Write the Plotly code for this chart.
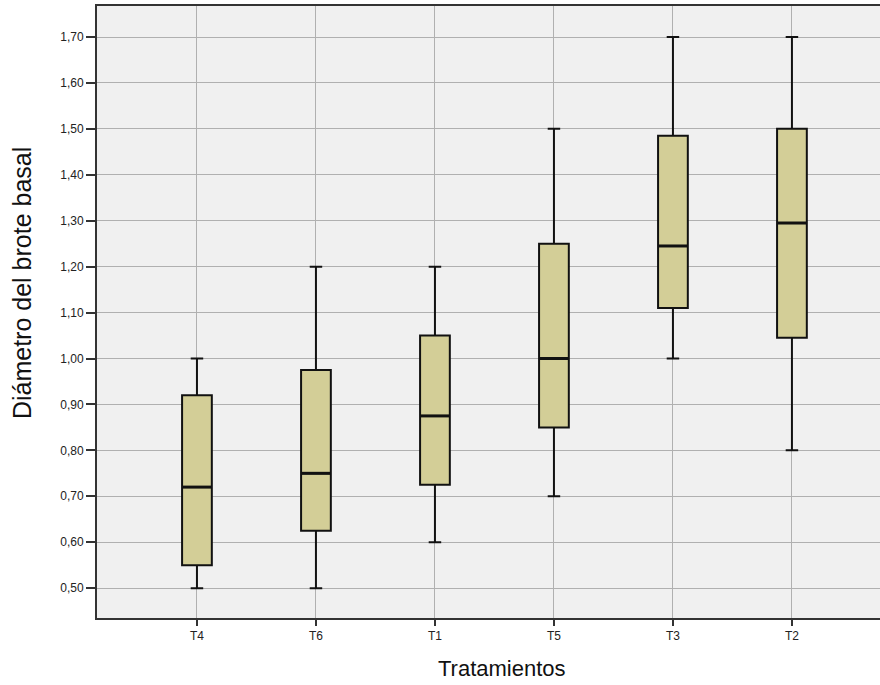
import plotly.graph_objects as go

categories = ["T4", "T6", "T1", "T5", "T3", "T2"]
mins = [0.50, 0.50, 0.60, 0.70, 1.00, 0.80]
q1s = [0.55, 0.625, 0.725, 0.85, 1.11, 1.045]
medians = [0.72, 0.75, 0.875, 1.00, 1.245, 1.295]
q3s = [0.92, 0.975, 1.05, 1.25, 1.485, 1.50]
maxs = [1.00, 1.20, 1.20, 1.50, 1.70, 1.70]

ytick_vals = [0.5, 0.6, 0.7, 0.8, 0.9, 1.0, 1.1, 1.2, 1.3, 1.4, 1.5, 1.6, 1.7]

FILL = "#D3CE97"
BW = 0.25
pos = list(range(len(categories)))

fig = go.Figure()
fig.add_trace(go.Box(
    x=pos, q1=q1s, median=medians, q3=q3s,
    lowerfence=mins, upperfence=maxs,
    width=BW, whiskerwidth=0.42,
    fillcolor=FILL, line=dict(color="#111111", width=2),
    boxpoints=False, showlegend=False, hoverinfo="skip",
))
for i, m in zip(pos, medians):
    fig.add_trace(go.Scatter(
        x=[i - BW / 2, i + BW / 2], y=[m, m], mode="lines",
        line=dict(color="#111111", width=3), showlegend=False, hoverinfo="skip",
    ))

fig.update_layout(
    width=880, height=685,
    margin=dict(l=97, r=0, t=6, b=67),
    paper_bgcolor="white", plot_bgcolor="#F0F0F0",
    separators=",.",
    font=dict(family="Liberation Sans, Arial, sans-serif", color="#222222"),
    annotations=[
        dict(text="Diámetro del brote basal", xref="paper", yref="paper",
             x=-0.096, y=0.547, xanchor="center", yanchor="middle",
             textangle=-90, showarrow=False,
             font=dict(size=25, color="#111111")),
        dict(text="Tratamientos", xref="paper", yref="paper",
             x=(502 - 97) / 783, y=-(668 - 618) / 612, xanchor="center", yanchor="middle",
             showarrow=False, font=dict(size=22, color="#111111")),
    ],
)
fig.update_xaxes(
    range=[-0.84, 5.74], tickvals=pos, ticktext=categories,
    showgrid=True, gridcolor="#B0B0B0", gridwidth=1,
    showline=True, linecolor="#333333", linewidth=2, mirror=True,
    ticks="outside", ticklen=6, tickcolor="#333333", tickwidth=2,
    tickfont=dict(size=12, color="#222222"),
    zeroline=False,
)
fig.update_yaxes(
    range=[0.435, 1.7675], tickvals=ytick_vals, tickformat=".2f",
    showgrid=True, gridcolor="#B0B0B0", gridwidth=1,
    showline=True, linecolor="#333333", linewidth=2,
    ticks="outside", ticklen=9, tickcolor="#333333", tickwidth=2,
    tickfont=dict(size=12, color="#222222"),
    zeroline=False,
)
fig.write_html("out.html")
